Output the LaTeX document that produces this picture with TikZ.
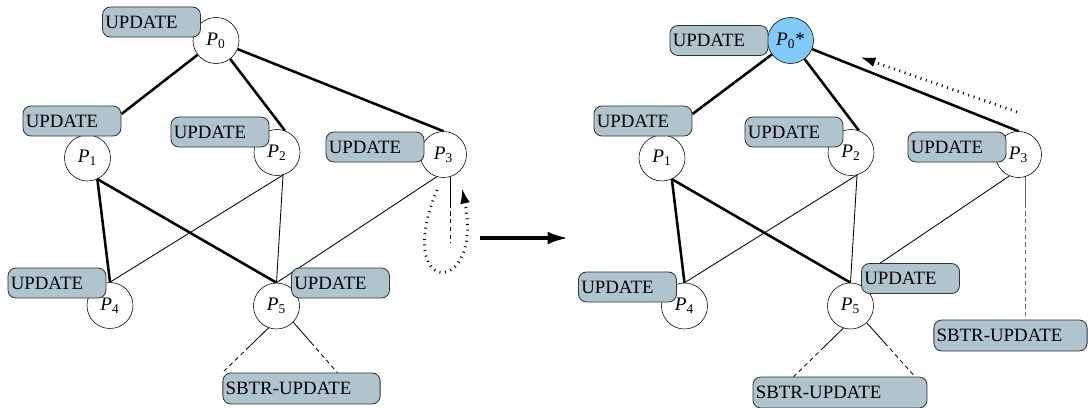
\documentclass[tikz,border=0pt]{standalone}
\usepackage{fontspec}
\setmainfont{Liberation Serif}
\usepackage{tikz}
\usetikzlibrary{arrows.meta,calc,backgrounds}
\definecolor{boxblue}{RGB}{176,196,206}
\definecolor{rootblue}{RGB}{130,202,250}
\newcommand{\pn}[1]{\textit{P}\textsubscript{#1}}
\tikzset{
	proc/.style={draw, circle, fill=white, thin, inner sep=0pt, minimum size=1.15cm,
		font=\fontsize{13.6}{15}\selectfont},
	root/.style={proc, fill=rootblue},
	upd/.style={draw=black!80, fill=boxblue, rounded corners=0.2cm, line width=0.6pt,
		inner xsep=0.07cm, inner ysep=0pt, text width=2.31cm, minimum height=0.75cm,
		align=left, font=\fontsize{13.4}{15}\selectfont},
	sbtr/.style={upd, text width=3.79cm, minimum height=0.775cm},
	thk/.style={line width=1.8pt},
	thn/.style={line width=0.6pt},
	fade/.style={dash pattern=on 0.78cm off 2.5pt on 3pt off 2.5pt on 3pt off 2.5pt on 3pt
		off 2.5pt on 3pt off 2.5pt on 3pt off 2.5pt on 3pt off 2.5pt on 3pt off 2.5pt on 3pt
		off 2.5pt on 3pt off 2.5pt on 3pt off 2.5pt on 3pt off 2.5pt on 3pt off 2.5pt on 3pt
		off 2.5pt on 3pt off 2.5pt on 3pt off 2.5pt on 3pt off 2.5pt on 3pt off 2.5pt on 3pt},
	mv/.style={line width=2pt, dash pattern=on 0.7pt off 3.3pt,
		-{Latex[length=11pt,width=7pt]}},
}

\begin{document}
\begin{tikzpicture}[x=0.025cm, y=-0.025cm]
	\useasboundingbox (0,0) rectangle (1088,408);

	% before: every process runs UPDATE
	\node[proc] at (216,40.5) (p0) {\pn{0}};
	\node[proc] at (87.5,158) (p1) {\pn{1}};
	\node[proc] at (277,152.5) (p2) {\pn{2}};
	\node[proc] at (443.5,154.5) (p3) {\pn{3}};
	\node[proc] at (110,305.5) (p4) {\pn{4}};
	\node[proc] at (276.5,306) (p5) {\pn{5}};
	\node[upd] at (151.5,22) (u0) {UPDATE};
	\node[upd] at (72,121) (u1) {UPDATE};
	\node[upd] at (220,132) (u2) {UPDATE};
	\node[upd] at (375,147) (u3) {UPDATE};
	\node[upd] at (57,283) (u4) {UPDATE};
	\node[upd] at (340.5,283) (u5) {UPDATE};
	\node[sbtr] at (301.5,388.5) (s5) {SBTR-UPDATE};
	\coordinate (drop) at (450,243);
	\coordinate (lp1) at (437,190);
	\coordinate (lp2) at (462,188);

	% after: P0 is the new root
	\node[root] at (790.5,40.5) (q0) {\pn{0}*};
	\node[proc] at (662,158) (q1) {\pn{1}};
	\node[proc] at (851,152.5) (q2) {\pn{2}};
	\node[proc] at (1018.5,154.5) (q3) {\pn{3}};
	\node[proc] at (684.5,306) (q4) {\pn{4}};
	\node[proc] at (850.5,306) (q5) {\pn{5}};
	\node[upd] at (719,40.5) (v0) {UPDATE};
	\node[upd] at (643,121) (v1) {UPDATE};
	\node[upd] at (794,132) (v2) {UPDATE};
	\node[upd] at (957,147) (v3) {UPDATE};
	\node[upd] at (627.5,287) (v4) {UPDATE};
	\node[upd] at (910.5,278.5) (v5) {UPDATE};
	\node[sbtr, text width=4.21cm] at (840,392.5) (t5) {SBTR-UPDATE};
	\node[sbtr, text width=3.69cm] at (1010.5,335.5) (t3) {SBTR-UPDATE};
	\coordinate (mv1) at (1017,112);
	\coordinate (mv2) at (860,57);

	\coordinate (go1) at (480,238);
	\coordinate (go2) at (570,238);

	\begin{scope}[on background layer]
		\draw[thk] (p0) -- (u1.8);
		\draw[thk] (p0) -- (p2.70);
		\draw[thk] (p0) -- (p3.north);
		\draw[thk] (p1.-65) -- (p4.north);
		\draw[thk] (p1.-65) -- (p5.north);
		\draw[thn] (p2.-75) -- (p4.north);
		\draw[thn] (p2.-75) -- (p5.north);
		\draw[thn] (p3.-107) -- (p5.north);
		\draw[thn, fade] (p5.-110) -- (s5.north west);
		\draw[thn, fade] (p5.-44) -- (s5.24);
		\draw[thn, fade] (p3.-73) -- (p3.-73 |- drop);

		\draw[thk] (q0) -- (v1.8);
		\draw[thk] (q0) -- (q2.70);
		\draw[thk] (q0) -- (q3.north);
		\draw[thk] (q1.-65) -- (q4.north);
		\draw[thk] (q1.-65) -- (q5.north);
		\draw[thn] (q2.-75) -- (q4.north);
		\draw[thn] (q2.-75) -- (q5.north);
		\draw[thn] (q3.-113) -- (v5.153);
		\draw[thn, fade] (q5.-108) -- (t5.161);
		\draw[thn, fade] (q5.-46) -- (t5.12);
		\draw[thn, fade, black!60] (q3.-73) -- (q3.-73 |- t3.north);
	\end{scope}

	\draw[mv] (lp1) .. controls (392,298) and (484,298) .. (lp2);
	\draw[mv] (mv1) -- (mv2);
	\draw[line width=3.5pt, -{Latex[length=16pt,width=9pt]}] (go1) -- (go2);
\end{tikzpicture}
\end{document}
